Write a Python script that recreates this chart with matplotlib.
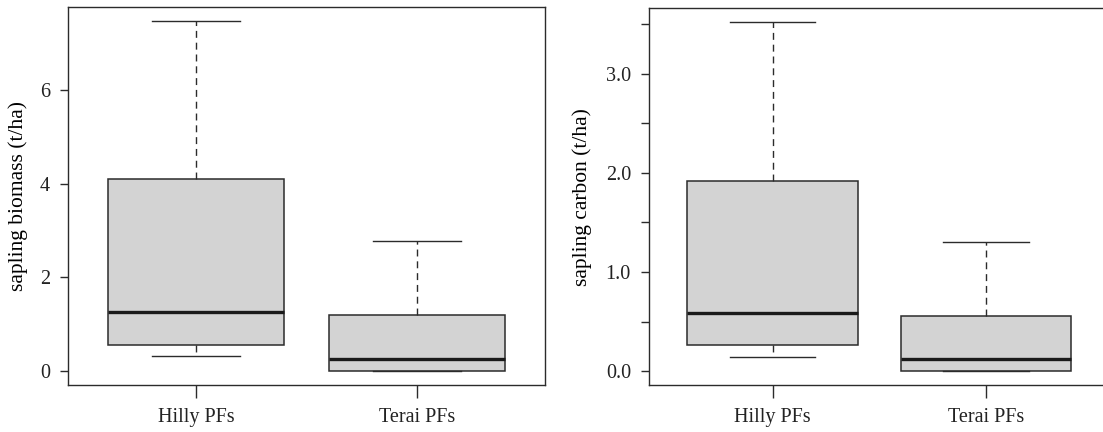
import numpy as np
import matplotlib.pyplot as plt
from matplotlib.ticker import FixedLocator, FuncFormatter

# --- datos leídos da figura ---
grupos = ["Hilly PFs", "Terai PFs"]

# biomasa (t/ha)
bio_whislo = [0.33, 0.0]
bio_q1 = [0.55, 0.0]
bio_med = [1.27, 0.26]
bio_q3 = [4.11, 1.19]
bio_whishi = [7.47, 2.77]

# carbono (t/ha)
carb_whislo = [0.14, 0.0]
carb_q1 = [0.26, 0.0]
carb_med = [0.59, 0.12]
carb_q3 = [1.92, 0.56]
carb_whishi = [3.52, 1.30]

plt.rcParams['font.family'] = ['Liberation Serif', 'DejaVu Serif']
plt.rcParams['text.color'] = '#222222'
plt.rcParams['xtick.labelcolor'] = '#222222'
plt.rcParams['ytick.labelcolor'] = '#222222'
COR_LIÑA = '#2b2b2b'


def caixas(ax, lo, q1, med, q3, hi, ylabel):
    stats = []
    for i, g in enumerate(grupos):
        stats.append(dict(label=g, whislo=lo[i], q1=q1[i], med=med[i], q3=q3[i], whishi=hi[i]))
    ax.bxp(stats, positions=[1, 2], widths=0.8, showfliers=False, patch_artist=True,
           boxprops=dict(facecolor='#d3d3d3', edgecolor=COR_LIÑA, linewidth=1.1),
           medianprops=dict(color='#1a1a1a', linewidth=2.4, solid_capstyle='butt'),
           whiskerprops=dict(color=COR_LIÑA, linewidth=1.0, linestyle=(0, (5, 3.5))),
           capprops=dict(color=COR_LIÑA, linewidth=1.0), capwidths=0.4)
    # rango tipo R (4% de extensión)
    ymin, ymax = min(lo), max(hi)
    r = ymax - ymin
    ax.set_ylim(ymin - 0.04 * r, ymax + 0.04 * r)
    ax.set_xlim(0.5 - 0.04 * 2, 2.5 + 0.04 * 2)
    ax.set_ylabel(ylabel, fontsize=15.5)
    for s in ax.spines.values():
        s.set_color(COR_LIÑA)
        s.set_linewidth(1.0)
    ax.tick_params(axis='x', length=9.5, width=1.0, color=COR_LIÑA, labelsize=14.5, pad=7)
    ax.tick_params(axis='y', length=5.5, width=1.0, color=COR_LIÑA, labelsize=14.5, pad=7.5)


fig = plt.figure(figsize=(11.03, 4.32), dpi=100)
ax1 = fig.add_axes([0.0615, 0.1088, 0.4328, 0.8743])
ax2 = fig.add_axes([0.5884, 0.1088, 0.4177, 0.872])

caixas(ax1, bio_whislo, bio_q1, bio_med, bio_q3, bio_whishi, 'sapling biomass (t/ha)')
ax1.set_yticks([0, 2, 4, 6])
ax1.yaxis.set_label_coords(-0.083, 0.5)

caixas(ax2, carb_whislo, carb_q1, carb_med, carb_q3, carb_whishi, 'sapling carbon (t/ha)')
ax2.yaxis.set_major_locator(FixedLocator([0, 0.5, 1, 1.5, 2, 2.5, 3, 3.5]))
ax2.yaxis.set_major_formatter(FuncFormatter(lambda v, p: f"{v:.1f}" if float(v).is_integer() else ""))
ax2.yaxis.set_label_coords(-0.124, 0.5)

fig.savefig('out.png', dpi=100)
